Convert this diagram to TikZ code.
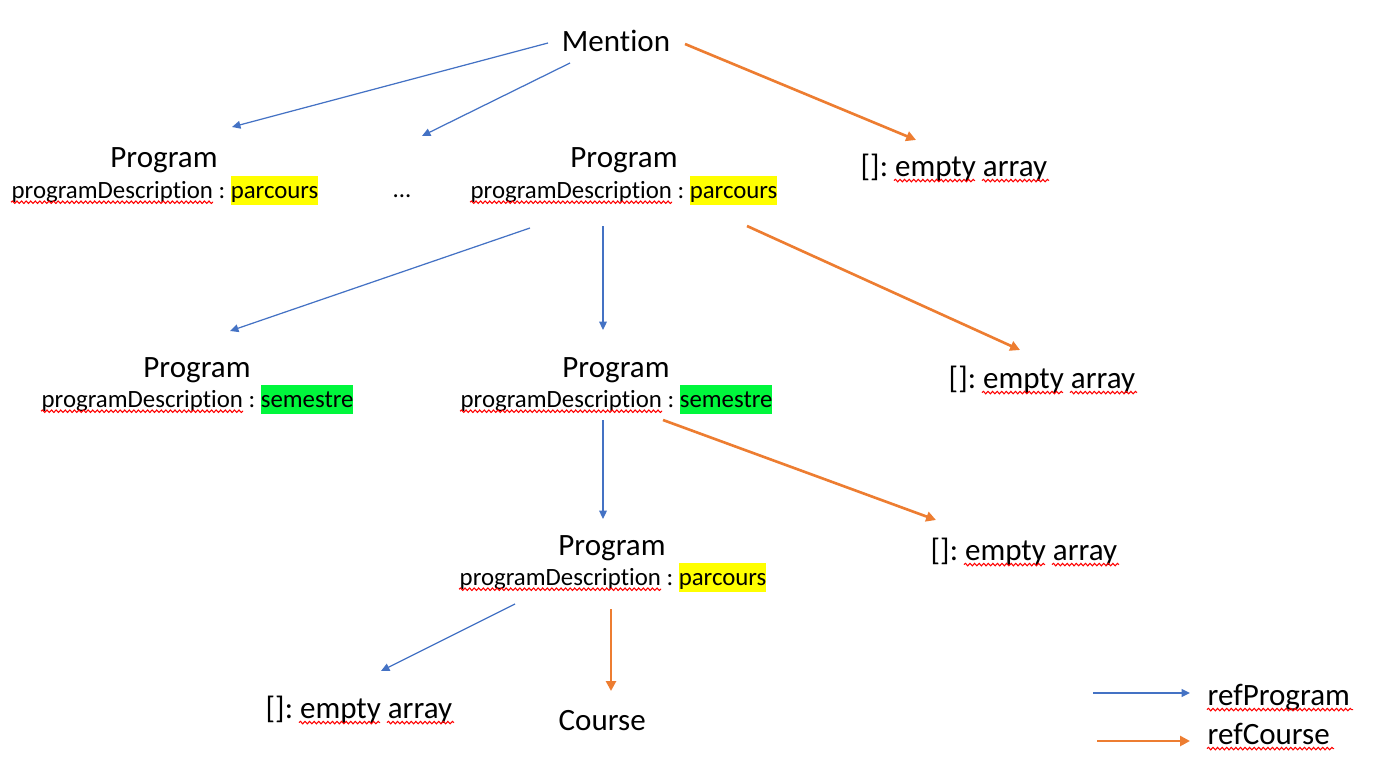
\documentclass[tikz,border=0pt]{standalone}
\usepackage{fontspec}
\setmainfont{Carlito}[Ligatures={NoCommon}]
\usetikzlibrary{arrows.meta,decorations.pathmorphing}
\definecolor{oblue}{HTML}{4472C4}
\definecolor{oorange}{HTML}{ED7D31}
\definecolor{hlyellow}{HTML}{FFFF00}
\definecolor{hlgreen}{HTML}{00F73C}
\newcommand\hlword[2]{{\setlength{\fboxsep}{0pt}\colorbox{#1}{\rule[-2pt]{0pt}{8.25pt}#2}}}
\frenchspacing
\begin{document}
\begin{tikzpicture}[x=0.01cm,y=-0.01cm,
  big/.style={font=\fontsize{8.82}{10.5}\selectfont\frenchspacing, inner sep=0pt},
  small/.style={font=\fontsize{7.06}{8.5}\selectfont\frenchspacing, inner sep=0pt},
  blarrow/.style={draw=oblue, line width=0.35pt, -{Triangle[length=2.4pt,width=2.2pt]}},
  orarrow/.style={draw=oorange, line width=0.75pt, -{Triangle[length=2.8pt,width=2.8pt]}},
  spell/.style={draw=red, line width=0.3pt, decorate, decoration={snake, amplitude=0.35pt, segment length=1.3pt}}]
\useasboundingbox (0,0) rectangle (1374,782);

% nodes
\node[big, anchor=base] (mention) at (616,52) {Mention};
\node[big, anchor=base] (prog1) at (164,167) {Program};
\node[small, anchor=base west] (desc1) at (11,198) {programDescription : \hlword{hlyellow}{parcours}};
\node[small, anchor=base west] (dots) at (392,197) {...};
\node[big, anchor=base] (prog2) at (624,167) {Program};
\node[small, anchor=base west] (desc2) at (470,198) {programDescription : \hlword{hlyellow}{parcours}};
\node[big, anchor=base west] (empty1) at (860,176) {[]: empty array};
\node[big, anchor=base] (prog3) at (197,377) {Program};
\node[small, anchor=base west] (desc3) at (41,407) {programDescription : \hlword{hlgreen}{semestre}};
\node[big, anchor=base] (prog4) at (616,377) {Program};
\node[small, anchor=base west] (desc4) at (460,407) {programDescription : \hlword{hlgreen}{semestre}};
\node[big, anchor=base west] (empty2) at (948,388) {[]: empty array};
\node[big, anchor=base west] (empty3) at (930,560) {[]: empty array};
\node[big, anchor=base] (prog5) at (612,555) {Program};
\node[small, anchor=base west] (desc5) at (459,585) {programDescription : \hlword{hlyellow}{parcours}};
\node[big, anchor=base west] (empty4) at (265,718) {[]: empty array};
\node[big, anchor=base west] (course) at (558,730) {Course};
\node[big, anchor=base west] (leg1) at (1207,705) {refProgram};
\node[big, anchor=base west] (leg2) at (1207,744) {refCourse};

% spell-check underlines
\foreach \d in {desc1,desc2,desc3,desc4,desc5}{
  \draw[spell] ([yshift=-1.2pt]\d.base west) -- ++(202,0);
}
\foreach \e in {empty1,empty2,empty3,empty4}{
  \draw[spell] ([yshift=-1.3pt]\e.base west) ++(34,0) -- ++(81,0);
  \draw[spell] ([yshift=-1.3pt]\e.base west) ++(122,0) -- ++(67,0);
}
\draw[spell] ([yshift=-1.3pt]leg1.base west) -- ++(146,0);
\draw[spell] ([yshift=-1.3pt]leg2.base west) -- ++(127,0);

% connector end points
\coordinate (mA) at (548,43);  \coordinate (p1in) at (232,127);
\coordinate (mB) at (570,63);  \coordinate (dotsin) at (422,136);
\coordinate (mC) at (685,44);  \coordinate (e1in) at (916,140);
\coordinate (p2A) at (530,228); \coordinate (p3in) at (230,331);
\coordinate (p2B) at (603,226); \coordinate (p4in) at (603,330);
\coordinate (p2C) at (747,226); \coordinate (e2in) at (1020,350);
\coordinate (p4A) at (603,420); \coordinate (p5in) at (603,519);
\coordinate (p4B) at (663,420); \coordinate (e3in) at (936,520);
\coordinate (p5A) at (515,604); \coordinate (e4in) at (381,671);
\coordinate (p5B) at (611,609); \coordinate (coursein) at (611,691);
\coordinate (lb1) at (1093,693); \coordinate (lb2) at (1190,693);
\coordinate (lo1) at (1097,741); \coordinate (lo2) at (1190,741);

% connectors
\draw[blarrow] (mA) -- (p1in);
\draw[blarrow] (mB) -- (dotsin);
\draw[orarrow] (mC) -- (e1in);
\draw[blarrow] (p2A) -- (p3in);
\draw[blarrow] (p2B) -- (p4in);
\draw[orarrow] (p2C) -- (e2in);
\draw[blarrow] (p4A) -- (p5in);
\draw[orarrow] (p4B) -- (e3in);
\draw[blarrow] (p5A) -- (e4in);
\draw[orarrow] (p5B) -- (coursein);
\draw[blarrow, line width=0.45pt] (lb1) -- (lb2);
\draw[orarrow] (lo1) -- (lo2);
\end{tikzpicture}
\end{document}
